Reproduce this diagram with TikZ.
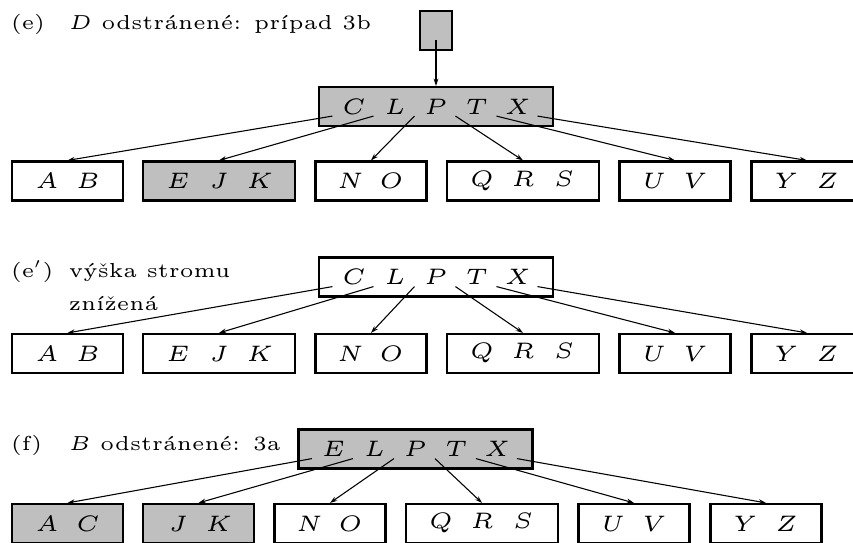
\documentclass[tikz,border=0pt]{standalone}
\usepackage{fix-cm}
\usepackage{fontspec}
\usetikzlibrary{arrows.meta,calc}
\definecolor{usedfill}{gray}{0.75}
\newcommand{\capsize}{\fontsize{4.7}{5.6}\selectfont}
\newcommand{\keysize}{\fontsize{5.2}{6.2}\selectfont}
\newcommand{\slot}[1]{\makebox[9.51pt]{$#1$}}
\tikzset{
 every node/.append style={font=\capsize},
 keybox/.style={draw,line width=.5pt,minimum height=9.05pt,inner xsep=3.36pt,inner ysep=0pt,font=\keysize},
 usedbox/.style={keybox,fill=usedfill},
 caption/.style={anchor=base west,inner sep=0pt},
 ptr/.style={-{Stealth[length=1.7pt,width=1.1pt]},line width=.25pt},
}

\begin{document}
\begin{tikzpicture}[x=.232pt,y=-.232pt]

\clip (0,0) rectangle (853,542);

% (e)
\node[caption] (e-tag) at (10,30) {(e)};
\node[caption] (e-text) at (68,30) {$D$ odstránené: prípad 3b};
\node[usedbox,minimum width=7.42pt,inner xsep=0pt] (e-top) at (436,30.5) {};
\node[usedbox] (e-root) at (436,106.5) {\slot C\slot L\slot P\slot T\slot X};
\node[keybox] (e-ab) at (67.5,181) {\slot A\slot B};
\node[usedbox] (e-ejk) at (219,181) {\slot E\slot J\slot K};
\node[keybox] (e-no) at (371,181) {\slot N\slot O};
\node[keybox] (e-qrs) at (523,181) {\slot Q\slot R\slot S};
\node[keybox] (e-uv) at (675,181) {\slot U\slot V};
\node[keybox] (e-yz) at (807,181) {\slot Y\slot Z};
\coordinate (e-top-p) at ($(e-top.south)+(0,-11)$);
\draw[ptr] (e-top-p) -- (e-root.north);
\foreach \i/\c in {0/ab,1/ejk,2/no,3/qrs,4/uv,5/yz} {
  \coordinate (e-p\i) at ($(e-root.south west)+(14.5+41*\i,-11)$);
  \draw[ptr] (e-p\i) -- (e-\c.north);
}

% (e')
\node[caption] (e2-tag) at (10,277) {(e$'$)};
\node[caption] (e2-text) at (68,277) {výška stromu};
\node[caption] (e2-text2) at (68,310) {znížená};
\node[keybox] (e2-root) at (436,277) {\slot C\slot L\slot P\slot T\slot X};
\node[keybox] (e2-ab) at (67.5,353.5) {\slot A\slot B};
\node[keybox] (e2-ejk) at (219,353.5) {\slot E\slot J\slot K};
\node[keybox] (e2-no) at (371,353.5) {\slot N\slot O};
\node[keybox] (e2-qrs) at (523,353.5) {\slot Q\slot R\slot S};
\node[keybox] (e2-uv) at (675,353.5) {\slot U\slot V};
\node[keybox] (e2-yz) at (807,353.5) {\slot Y\slot Z};
\foreach \i/\c in {0/ab,1/ejk,2/no,3/qrs,4/uv,5/yz} {
  \coordinate (e2-p\i) at ($(e2-root.south west)+(14.5+41*\i,-11)$);
  \draw[ptr] (e2-p\i) -- (e2-\c.north);
}

% (f)
\node[caption] (f-tag) at (10,450) {(f)};
\node[caption] (f-text) at (68,450) {$B$ odstránené: 3a};
\node[usedbox] (f-root) at (415.5,449) {\slot E\slot L\slot P\slot T\slot X};
\node[usedbox] (f-ac) at (67.5,523.5) {\slot A\slot C};
\node[usedbox] (f-jk) at (198.5,523.5) {\slot J\slot K};
\node[keybox] (f-no) at (330,523.5) {\slot N\slot O};
\node[keybox] (f-qrs) at (482,523.5) {\slot Q\slot R\slot S};
\node[keybox] (f-uv) at (634,523.5) {\slot U\slot V};
\node[keybox] (f-yz) at (766,523.5) {\slot Y\slot Z};
\foreach \i/\c in {0/ac,1/jk,2/no,3/qrs,4/uv,5/yz} {
  \coordinate (f-p\i) at ($(f-root.south west)+(14.5+41*\i,-11)$);
  \draw[ptr] (f-p\i) -- (f-\c.north);
}

\end{tikzpicture}
\end{document}
